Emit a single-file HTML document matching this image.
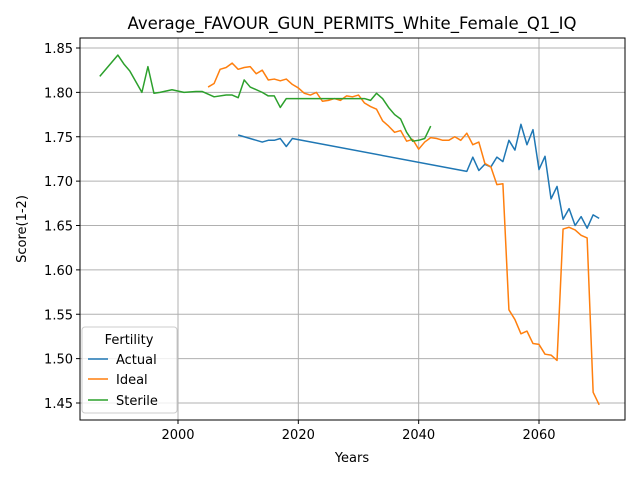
<!DOCTYPE html>
<html><head><meta charset="utf-8"><style>body{margin:0;background:#fff;position:relative}svg{font-family:"DejaVu Sans","Liberation Sans",sans-serif}</style></head>
<body>
<svg id="c" width="640" height="480"></svg>
<script>
const actualYears=[2010,2014,2015,2016,2017,2018,2019,2048,2049,2050,2051,2052,2053,2054,2055,2056,2057,2058,2059,2060,2061,2062,2063,2064,2065,2066,2067,2068,2069,2070];
const actualVals=[1.752,1.744,1.746,1.746,1.748,1.739,1.748,1.711,1.727,1.712,1.719,1.716,1.727,1.722,1.746,1.735,1.764,1.741,1.758,1.713,1.728,1.680,1.694,1.657,1.669,1.650,1.660,1.647,1.662,1.658];
const idealStart=2005;
const idealVals=[1.806,1.810,1.826,1.828,1.833,1.826,1.828,1.829,1.821,1.825,1.814,1.815,1.813,1.815,1.809,1.805,1.799,1.797,1.800,1.790,1.791,1.793,1.791,1.796,1.795,1.797,1.788,1.784,1.781,1.768,1.762,1.755,1.757,1.745,1.747,1.736,1.744,1.749,1.748,1.746,1.746,1.750,1.746,1.754,1.741,1.744,1.720,1.716,1.696,1.697,1.555,1.544,1.528,1.531,1.517,1.516,1.505,1.504,1.498,1.646,1.648,1.645,1.639,1.636,1.462,1.448];
const sterileYears=[1987,1990,1991,1992,1994,1995,1996,1997,1999,2001,2003,2004,2006,2008,2009,2010,2011,2012,2014,2015,2016,2017,2018,2031,2032,2033,2034,2035,2036,2037,2038,2039,2040,2041,2042];
const sterileVals=[1.818,1.842,1.832,1.824,1.800,1.829,1.799,1.800,1.803,1.800,1.801,1.801,1.795,1.797,1.797,1.794,1.814,1.806,1.800,1.796,1.796,1.783,1.793,1.793,1.791,1.799,1.793,1.783,1.775,1.770,1.755,1.745,1.746,1.748,1.762];
const xTicks=[2000,2020,2040,2060];
const yTicks=[1.45,1.50,1.55,1.60,1.65,1.70,1.75,1.80,1.85];
const L=80,R=625,T=38,B=420;
const x=v=>178+(v-2000)*(539-178)/60;
const y=v=>48+(1.85-v)*(403-48)/0.4;
const s=document.getElementById('c');const NS='http://www.w3.org/2000/svg';
function el(t,a,p){const e=document.createElementNS(NS,t);for(const k in a)e.setAttribute(k,a[k]);(p||s).appendChild(e);return e;}
xTicks.forEach(t=>{const g=el('line',{x1:x(t),x2:x(t),y1:T,y2:B,stroke:'#b0b0b0','stroke-width':1});

el('line',{x1:x(t),x2:x(t),y1:B,y2:B+4,stroke:'#000'});
const tx=el('text',{x:x(t),y:B+19,'text-anchor':'middle','font-size':13});tx.textContent=t;
});
yTicks.forEach(t=>{const g=el('line',{x1:L,x2:R,y1:y(t),y2:y(t),stroke:'#b0b0b0','stroke-width':1});

el('line',{x1:L-4,x2:L,y1:y(t),y2:y(t),stroke:'#000'});
const tx=el('text',{x:L-7,y:y(t)+5,'text-anchor':'end','font-size':13});tx.textContent=t.toFixed(2);
});
function line(xs,vs,c,n){const p=el('polyline',{points:xs.map((a,i)=>x(a)+','+y(vs[i])).join(' '),fill:'none',stroke:c,'stroke-width':1.5,'stroke-linejoin':'round'});
}
line(actualYears,actualVals,'#1f77b4','actual-line');
line(idealVals.map((_,i)=>idealStart+i),idealVals,'#ff7f0e','ideal-line');
line(sterileYears,sterileVals,'#2ca02c','sterile-line');
const fr=el('rect',{x:L,y:T,width:R-L,height:B-T,fill:'none',stroke:'#000','stroke-width':1});

</script>
<svg width="640" height="480" style="position:absolute;left:0;top:0">
<text x="352" y="29" text-anchor="middle" font-size="16.5">Average_FAVOUR_GUN_PERMITS_White_Female_Q1_IQ</text>
<text x="352" y="462" text-anchor="middle" font-size="13">Years</text>
<text x="26" y="229" text-anchor="middle" font-size="13" transform="rotate(-90 26 229)">Score(1-2)</text>
<g>
<rect x="82" y="327" width="95" height="86" rx="3" fill="#fff" fill-opacity="0.8" stroke="#ccc"/>
<text x="129" y="344" text-anchor="middle" font-size="13">Fertility</text>
<line x1="88" x2="108" y1="359" y2="359" stroke="#1f77b4" stroke-width="1.5"/><text x="116" y="364" font-size="13">Actual</text>
<line x1="88" x2="108" y1="379" y2="379" stroke="#ff7f0e" stroke-width="1.5"/><text x="116" y="384" font-size="13">Ideal</text>
<line x1="88" x2="108" y1="400" y2="400" stroke="#2ca02c" stroke-width="1.5"/><text x="116" y="405" font-size="13">Sterile</text>
</g>
</svg>
</body></html>
